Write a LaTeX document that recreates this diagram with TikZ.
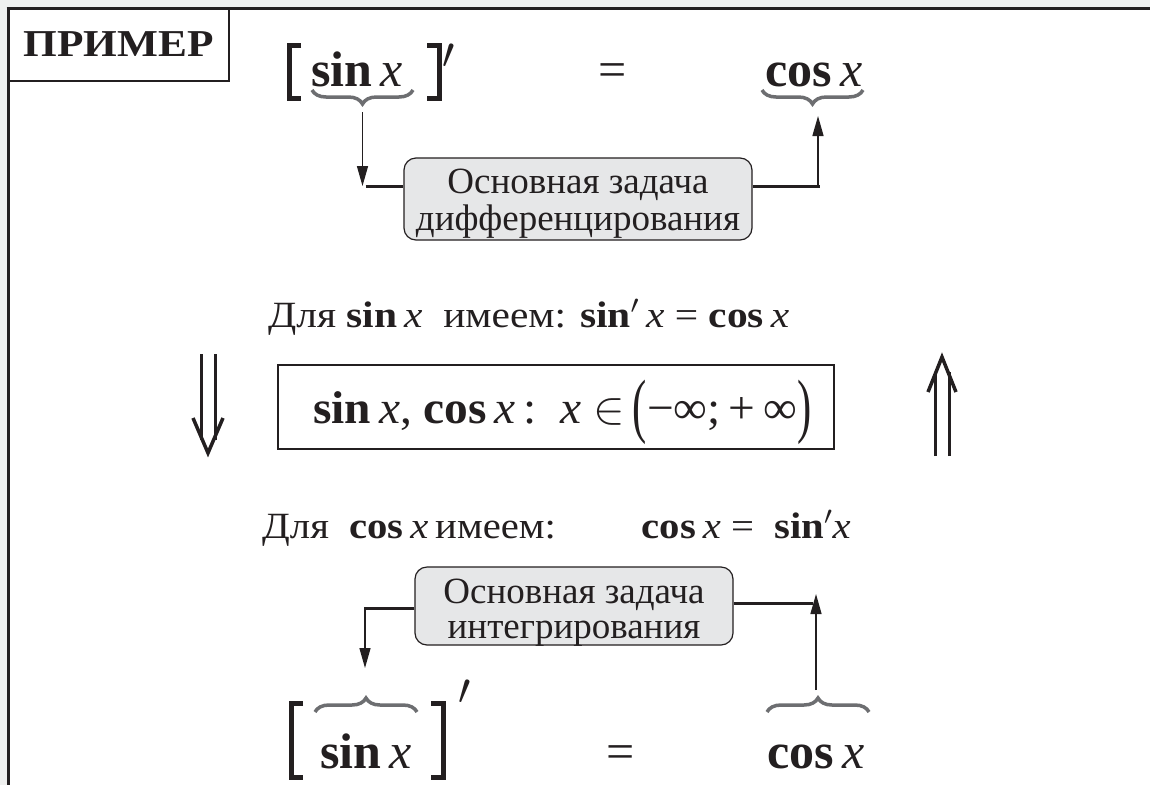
\documentclass[tikz,border=0pt]{standalone}
\usepackage{fix-cm}
\usepackage{amsmath}
\usepackage{graphicx}
\usepackage{fontspec}
\setmainfont{Liberation Serif}
\usetikzlibrary{arrows.meta,decorations.pathreplacing}
\definecolor{ink}{HTML}{231F20}
\definecolor{bracegray}{HTML}{6D6E71}
\definecolor{boxfill}{HTML}{E6E7E8}
\definecolor{bgray}{HTML}{EFF0EF}
\newcommand{\bsin}{{\bfseries sin}}
\newcommand{\bcos}{{\bfseries cos}}
\newcommand{\ix}{\textit{x}}
\newcommand{\tallparen}[1]{\raisebox{-6pt}{\scalebox{0.9}[1.55]{#1}}}
\begin{document}
\begin{tikzpicture}[x=1pt,y=-1pt,
  bigtxt/.style={font=\fontsize{50}{60}\selectfont, text=ink, inner sep=0, anchor=base west},
  midtxt/.style={font=\fontsize{37}{42}\selectfont, text=ink, inner sep=0, anchor=base west},
  domtxt/.style={font=\fontsize{46}{50}\selectfont, text=ink, inner sep=0, anchor=base west},
  task/.style={draw=ink, fill=boxfill, rounded corners=12pt, line width=1.2pt, align=center,
     font=\fontsize{37}{37}\selectfont, text=ink, inner sep=0},
  ubrace/.style={decorate, decoration={brace, amplitude=14pt}, draw=bracegray, line width=3.5pt},
  link/.style={draw=ink, line width=1.4pt},
  thickl/.style={draw=ink, line width=3pt},
  arr/.style={-{Triangle[length=20pt,width=11pt]}},
  brk/.style={draw=ink, line width=5pt, miter limit=2},
  dbl/.style={draw=ink, line width=3pt},
  chev/.style={draw=ink, line width=3.5pt, miter limit=10},
  primemark/.style={inner sep=0, font=\fontsize{44}{44}\selectfont, text=ink}
]
\useasboundingbox (0,0) rectangle (1150,785);
% page frame
\fill[bgray] (0,0) rectangle (1150,785);
\fill[white] (8,8) rectangle (1150,785);
\draw[ink, line width=3pt] (6.5,8) -- (1150,8);
\draw[ink, line width=3pt] (8,8) -- (8,785);
% title box
\node[draw=ink, line width=2.5pt, minimum width=221pt, minimum height=73pt, inner sep=0,
      font=\fontsize{38}{40}\selectfont\bfseries, text=ink] (title) at (118.5,44.5) {\scalebox{1.14}[1]{ПРИМЕР}};

% ---- top formula ----
\draw[brk] (301,45) -- (289,45) -- (289,98) -- (301,98);
\draw[brk] (427,45) -- (439,45) -- (439,98) -- (427,98);
\node[primemark] (p1) at (449,56) {$\prime$};
\node[bigtxt] (sinT) at (311,86) {\bsin\,\ix};
\node[bigtxt] (eqT) at (598,86) {=};
\node[bigtxt] (cosT) at (765,86) {\bcos\,\ix};
\draw[ubrace] (413,90) -- (312,90);
\draw[ubrace] (863,90) -- (762,90);
\coordinate (sinTtip) at (362.5,112);
\coordinate (cosTtip) at (818,116);

\node[task, minimum width=348pt, minimum height=82pt] (diff) at (578,199)
  {\raisebox{-15pt}[0pt][0pt]{\begin{tabular}{@{}c@{}}Основная задача\\[0pt]дифференцирования\end{tabular}}};
\coordinate (dl) at (362.5,186);
\coordinate (dr) at (818,186);
\draw[link, arr] (sinTtip) -- (dl);
\draw[thickl] ([xshift=3pt]dl) -- (diff.west |- dl);
\draw[thickl] (diff.east |- dr) -- ([xshift=1.5pt]dr);
\draw[link, arr] (dr) -- (cosTtip);

% ---- middle ----
\node[midtxt] (l1) at (268,327) {\scalebox{1.12}[1]{Для \bsin\,\ix\ \ имеем: \bsin$'$\,\ix\ = \bcos\,\ix}};

\node[draw=ink, line width=1.3pt, minimum width=556pt, minimum height=84pt, inner sep=0] (dom) at (556,407) {};
\node[domtxt] (domt) at (313,423) {\scalebox{1.03}[1]{\bsin\,\ix, \bcos\,\ix\,:\ \ \ix\ $\in$\,\tallparen{(}−∞;\,+\,∞\tallparen{)}}};

% left double arrow (down)
\draw[dbl] (201,354) -- (201,440);
\draw[dbl] (215,354) -- (215,440);
\draw[chev] (193,418) -- (208,453) -- (223,418);
% right double arrow (up)
\draw[dbl] (935,456) -- (935,372);
\draw[dbl] (949,456) -- (949,372);
\draw[chev] (928,392) -- (942,357) -- (956,392);

\node[midtxt] (l2) at (262,538) {\scalebox{1.1}[1]{Для \ \bcos\,\ix\,имеем:\hspace{78pt}\bcos\,\ix\ = \ \bsin$'$\ix}};

% ---- bottom ----
\node[task, minimum width=318pt, minimum height=78pt] (integ) at (574,606)
  {\raisebox{-17pt}[0pt][0pt]{\begin{tabular}{@{}c@{}}Основная задача\\[-2pt]интегрирования\end{tabular}}};
\coordinate (il) at (365,608);
\coordinate (ir) at (816,603);
\coordinate (sinBtip) at (365,668);
\coordinate (cosBtip) at (816,690);
\draw[thickl] (integ.west |- il) -- ([xshift=-1.5pt]il);
\draw[link, arr] (il) -- (sinBtip);
\draw[thickl] (integ.east |- ir) -- ([xshift=-3pt]ir);
\draw[link, arr] (cosBtip) -- ([yshift=9pt]ir);

\draw[brk] (303,703) -- (291,703) -- (291,777) -- (303,777);
\draw[brk] (431,703) -- (443,703) -- (443,777) -- (431,777);
\node[primemark] (p2) at (465,692) {$\prime$};
\node[bigtxt] (sinB) at (320,768) {\bsin\,\ix};
\node[bigtxt] (eqB) at (606,768) {=};
\node[bigtxt] (cosB) at (767,768) {\bcos\,\ix};
\draw[ubrace] (315,712) -- (417,712);
\draw[ubrace] (767,712) -- (869,712);
\end{tikzpicture}
\end{document}
